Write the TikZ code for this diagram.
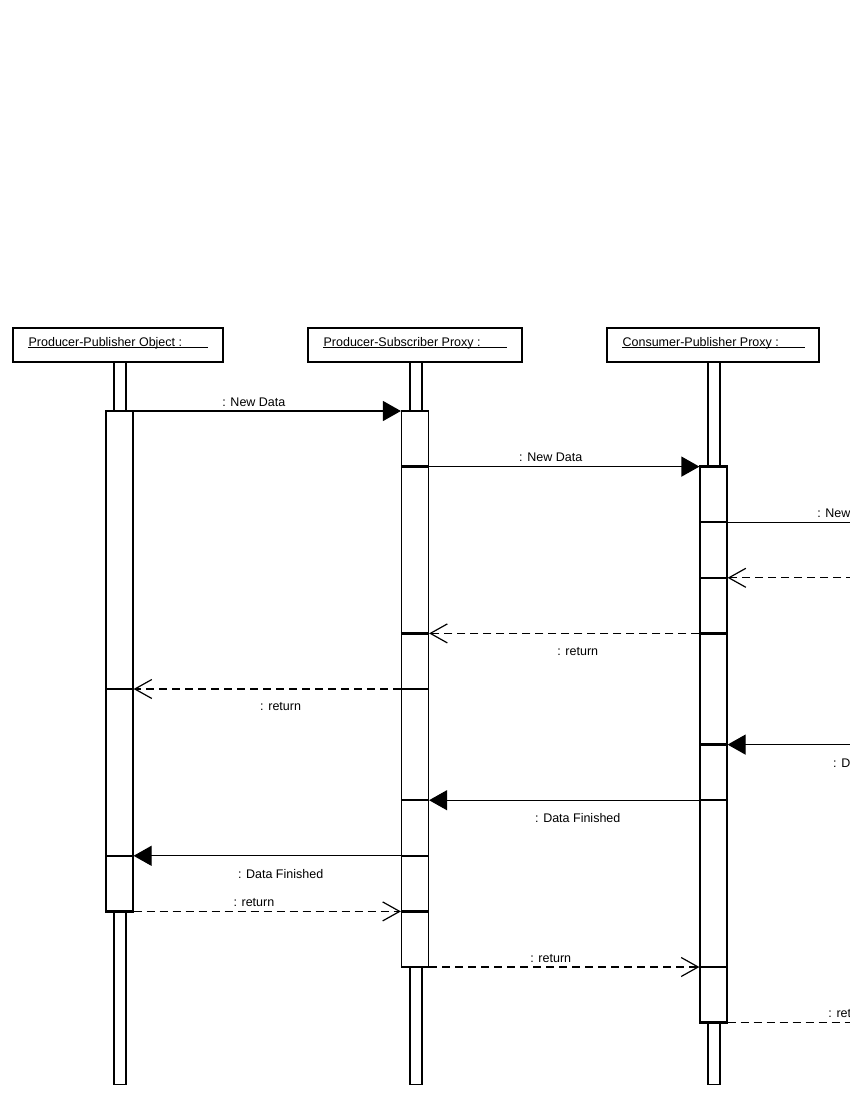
\documentclass[tikz,border=0pt]{standalone}
\usepackage{fontspec}
\setmainfont{Liberation Sans}
\usetikzlibrary{arrows.meta,calc,positioning}
\tikzset{>=latex}
\newcommand{\lblfont}{\fontsize{12.5}{15}\selectfont}
\tikzset{
  headbox/.style={draw, line width=1.2pt, minimum height=34pt, inner sep=0pt},
  headtext/.style={font=\lblfont, inner sep=0pt, anchor=base west},
  lifeline/.style={draw, fill=white, line width=1.2pt, minimum width=12pt, inner sep=0pt, anchor=north},
  actbar/.style={draw, fill=white, line width=1.2pt, minimum width=27pt, inner sep=0pt, anchor=north},
  tick/.style={line width=2.4pt},
  call/.style={line width=1.2pt, -{Triangle[length=18pt,width=20pt]}},
  reply/.style={line width=1.2pt, dash pattern=on 8pt off 5pt, -{Straight Barb[length=17pt,width=19pt]}},
  lbl/.style={font=\lblfont, inner sep=2pt, pos=.45}
}

\begin{document}
\begin{tikzpicture}[x=1pt,y=-1pt]
      \useasboundingbox (0,0) rectangle (850,1100);
      \clip (0,0) rectangle (850,1100);
      \def\rowh{55.6}  % spacing of messages
      \foreach \i in {0,...,11} {%
        \coordinate (r\i) at (0,{411+\i*\rowh});
      }
      \coordinate (far) at (997,0);
      %
      % object heads and lifelines
      \foreach \n/\x/\w/\lx/\txt in {A/118/210/120/Producer-Publisher Object :,
                                      B/415/214/416/Producer-Subscriber Proxy :,
                                      C/713/212/714/Consumer-Publisher Proxy :} {%
        \node[headbox, minimum width=\w pt] (h\n) at (\x,345) {};
        \node[headtext] (t\n) at ($(h\n.west)+(16,1)$) {\txt};
        \draw[line width=.9pt] ($(t\n.base west)+(0,1.3)$) -- ($(t\n.base east)+(26,1.3)$);
        \node[lifeline, minimum height=722pt] (l\n) at (\lx,362) {};
      }
      %
      % activations
      \node[actbar, minimum height=9*\rowh pt] (bA) at (119.5,411) {};
      \node[actbar, minimum height=10*\rowh pt] (bB) at (415,411) {};
      \node[actbar, minimum height=10*\rowh pt] (bC) at (713.5,411+\rowh) {};
      \foreach \b/\rows in {bA/{0,5,8,9}, bB/{0,1,4,5,7,8,9,10}, bC/{1,2,3,4,6,7,10,11}} {%
        \foreach \i in \rows {%
          \draw[tick] (\b.west |- r\i) -- (\b.east |- r\i);
        }
      }
      %
      % messages
      \draw[call] (bA.east |- r0) -- node[lbl, above=2pt] {: New Data} (bB.west |- r0);
      \draw[call] (bB.east |- r1) -- node[lbl, above=2pt] {: New Data} (bC.west |- r1);
      \draw[call] (bC.east |- r2) -- node[lbl, above=2pt] {: New Data} (far |- r2);
      \draw[reply] (far |- r3) -- (bC.east |- r3);
      \draw[reply] (bC.west |- r4) -- node[lbl, below=11pt] {: return} (bB.east |- r4);
      \draw[reply] (bB.west |- r5) -- node[lbl, below=11pt] {: return} (bA.east |- r5);
      \draw[call] (far |- r6) -- node[lbl, below=11pt] {: Data Finished} (bC.east |- r6);
      \draw[call] (bC.west |- r7) -- node[lbl, below=11pt] {: Data Finished} (bB.east |- r7);
      \draw[call] (bB.west |- r8) -- node[lbl, below=11pt] {: Data Finished} (bA.east |- r8);
      \draw[reply] (bA.east |- r9) -- node[lbl, above=2pt] {: return} (bB.west |- r9);
      \draw[reply] (bB.east |- r10) -- node[lbl, above=2pt] {: return} (bC.west |- r10);
      \draw[reply] (bC.east |- r11) -- node[lbl, above=2pt] {: return} (far |- r11);
    \end{tikzpicture}
\end{document}
